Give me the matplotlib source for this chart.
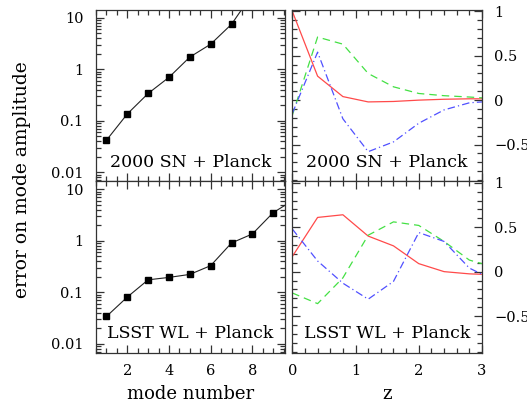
import numpy as np
import matplotlib
matplotlib.use('Agg')
import matplotlib.pyplot as plt
from matplotlib.ticker import MultipleLocator, LogLocator, NullFormatter, FixedLocator

plt.rcParams['font.family'] = 'DejaVu Serif'

# mode errors
modes_sn = [1, 2, 3, 4, 5, 6, 7, 8, 9]
err_sn = [0.042, 0.136, 0.34, 0.70, 1.73, 3.08, 7.5, 29.0, 60.0]
modes_wl = [1, 2, 3, 4, 5, 6, 7, 8, 9, 10]
err_wl = [0.034, 0.081, 0.175, 0.195, 0.223, 0.33, 0.91, 1.36, 3.53, 6.3]

# mode shapes vs redshift
z = [0.0, 0.4, 0.8, 1.2, 1.6, 2.0, 2.4, 2.8, 3.0]
sn_m1 = [1.0, 0.27, 0.04, -0.02, -0.015, 0.0, 0.01, 0.015, 0.015]
sn_m2 = [-0.17, 0.71, 0.63, 0.30, 0.15, 0.075, 0.05, 0.035, 0.026]
sn_m3 = [-0.15, 0.54, -0.21, -0.58, -0.47, -0.26, -0.11, -0.03, -0.02]
wl_m1 = [0.17, 0.61, 0.64, 0.40, 0.29, 0.09, 0.0, -0.025, -0.03]
wl_m2 = [-0.24, -0.36, -0.07, 0.41, 0.56, 0.52, 0.34, 0.13, 0.09]
wl_m3 = [0.48, 0.12, -0.13, -0.31, -0.11, 0.44, 0.34, 0.04, -0.03]

labels = ['2000 SN + Planck', 'LSST WL + Planck']

fig = plt.figure(figsize=(5.27, 4.03), dpi=100)
W, H = 527.0, 403.0
hh = 171.5 / H
ax_l1 = fig.add_axes([96 / W, 1 - 181 / H, 188.7 / W, hh])
ax_l2 = fig.add_axes([96 / W, 1 - 352.5 / H, 188.7 / W, hh])
ax_r1 = fig.add_axes([292.3 / W, 1 - 181 / H, 189.7 / W, hh])
ax_r2 = fig.add_axes([292.3 / W, 1 - 352.5 / H, 189.7 / W, hh])

red = '#ff4a4a'
green = '#44e044'
blue = '#5050ff'


def style(ax):
    ax.tick_params(which='both', direction='in', top=True, right=True,
                   labelsize=10.5, width=0.9, color='#333333')
    ax.tick_params(which='major', length=6)
    ax.tick_params(which='minor', length=3.5)
    for s in ax.spines.values():
        s.set_linewidth(0.9)
        s.set_color('#333333')


for ax, m, e, lab in [(ax_l1, modes_sn, err_sn, labels[0]),
                      (ax_l2, modes_wl, err_wl, labels[1])]:
    ax.plot(m, e, color='#222222', lw=0.8, marker='s', ms=4, mfc='k', mec='k')
    ax.set_yscale('log')
    ax.set_xlim(0.5, 9.55)
    ax.set_ylim(0.0068, 14.5)
    ax.xaxis.set_major_locator(FixedLocator([2, 4, 6, 8]))
    ax.xaxis.set_minor_locator(MultipleLocator(0.5))
    ax.yaxis.set_major_locator(FixedLocator([0.01, 0.1, 1, 10]))
    ax.yaxis.set_minor_locator(LogLocator(base=10, subs=np.arange(2, 10)))
    ax.yaxis.set_minor_formatter(NullFormatter())
    ax.set_yticklabels(['0.01', '0.1', '1', '10'])
    style(ax)
    ax.tick_params(axis='y', pad=9)
    ax.text(0.5, 0.06, lab, transform=ax.transAxes, ha='center', va='bottom',
            fontsize=12.5)

ax_l1.tick_params(labelbottom=False)
ax_l2.tick_params(axis='x', pad=8)
ax_l2.set_xlabel('mode number', fontsize=13, labelpad=5)

for ax, ys, lab in [(ax_r1, (sn_m1, sn_m2, sn_m3), labels[0]),
                    (ax_r2, (wl_m1, wl_m2, wl_m3), labels[1])]:
    ax.plot(z, ys[0], color=red, lw=0.9)
    ax.plot(z, ys[1], color=green, lw=0.9, dashes=(6, 4))
    ax.plot(z, ys[2], color=blue, lw=0.9, dashes=(6, 2.5, 1, 2.5))
    ax.set_xlim(0, 3)
    ax.set_ylim(-0.91, 1.02)
    ax.xaxis.set_major_locator(MultipleLocator(1))
    ax.xaxis.set_minor_locator(MultipleLocator(0.2))
    ax.yaxis.set_major_locator(FixedLocator([-0.5, 0, 0.5, 1]))
    ax.yaxis.set_minor_locator(MultipleLocator(0.1))
    ax.set_yticklabels(['\u22120.5', '0', '0.5', '1'])
    style(ax)
    ax.tick_params(labelleft=False, labelright=True)
    ax.tick_params(axis='y', pad=9)
    ax.text(0.5, 0.06, lab, transform=ax.transAxes, ha='center', va='bottom',
            fontsize=12.5)

ax_r1.tick_params(labelbottom=False)
ax_r2.tick_params(axis='x', pad=8)
ax_r2.set_xlabel('z', fontsize=13, labelpad=5)

fig.text(21.7 / W, 1 - 180 / H, 'error on mode amplitude', rotation=90,
         ha='center', va='center', fontsize=13.5)

fig.savefig('out.png', dpi=100)
